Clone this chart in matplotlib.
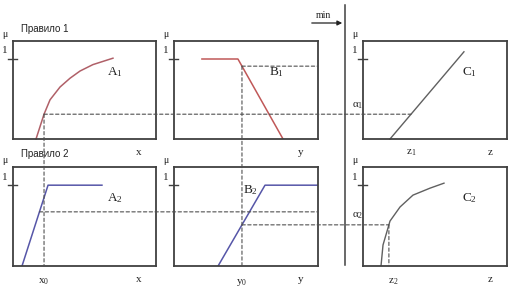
import numpy as np
import matplotlib
matplotlib.use("Agg")
import matplotlib.pyplot as plt
from matplotlib.patches import ConnectionPatch

plt.rcParams['mathtext.fontset'] = 'custom'
plt.rcParams['mathtext.rm'] = 'Liberation Serif'
plt.rcParams['mathtext.it'] = 'Liberation Serif:italic'

# ---- data (universes scaled 0..10, membership 0..1) ----
a1_x = [1.61, 2.17, 2.59, 3.29, 3.99, 4.69, 5.59, 6.99]
a1_mu = [0.0, 0.31, 0.49, 0.65, 0.76, 0.85, 0.93, 1.01]
b1_x = [1.94, 4.44, 7.57]
b1_mu = [1.0, 1.0, 0.0]
c1_x = [1.875, 7.01]
c1_mu = [0.0, 1.09]
a2_x = [0.63, 2.45, 6.22]
a2_mu = [0.0, 1.0, 1.0]
b2_x = [3.06, 6.32, 10.0]
b2_mu = [0.0, 1.0, 1.0]
c2_x = [1.25, 1.39, 1.875, 2.57, 3.47, 4.65, 5.625]
c2_mu = [0.0, 0.26, 0.556, 0.73, 0.877, 0.963, 1.025]
x0 = 2.17
y0 = 4.72
mu_a2_level = 0.67   # level for A2(x0)

W, H = 516, 290
fig = plt.figure(figsize=(W / 100, H / 100), dpi=100)

EDGE = '#404040'
DASH = '#505050'
SERIF = 'Liberation Serif'
SANS = 'Liberation Sans'


def make_ax(left, top, right, bottom):
    ax = fig.add_axes([left / W, 1 - bottom / H, (right - left) / W, (bottom - top) / H])
    ax.set_xlim(0, 10)
    ax.set_ylim(0, 1.225)
    ax.set_xticks([])
    ax.set_yticks([])
    for s in ax.spines.values():
        s.set_color(EDGE)
        s.set_linewidth(1.3)
    ax.patch.set_alpha(0)
    # tick for mu = 1
    ax.plot([-0.38, 0.3], [1, 1], color=EDGE, lw=1.0, clip_on=False)
    ax.text(-0.55, 1.1, '1', fontsize=8, family=SERIF, ha='center', va='center', color='#222')
    ax.text(-0.55, 1.31, 'μ', fontsize=7, family=SERIF, ha='center', va='center', color='#222')
    return ax


axA1 = make_ax(13, 41, 156, 139)
axB1 = make_ax(174, 41, 318, 139)
axC1 = make_ax(363, 41, 507, 139)
axA2 = make_ax(13, 167, 156, 266)
axB2 = make_ax(174, 167, 318, 266)
axC2 = make_ax(363, 167, 507, 266)

RED = '#b06068'
RED2 = '#c05858'
BLUE = '#5656a8'
GRAY = '#606060'

axA1.plot(a1_x, a1_mu, color=RED, lw=1.1, clip_on=False)
axB1.plot(b1_x, b1_mu, color=RED2, lw=1.1)
axC1.plot(c1_x, c1_mu, color=GRAY, lw=1.0, clip_on=False)
axA2.plot(a2_x, a2_mu, color=BLUE, lw=1.1)
axB2.plot(b2_x, b2_mu, color=BLUE, lw=1.1)
axC2.plot(c2_x, c2_mu, color=GRAY, lw=1.0)

# membership values
mu_a1 = np.interp(x0, a1_x, a1_mu)
mu_b1 = np.interp(y0, b1_x, b1_mu)
mu_b2 = np.interp(y0, b2_x, b2_mu)
alpha1 = min(mu_a1, mu_b1)
alpha2 = min(mu_a2_level, mu_b2)
z1 = np.interp(alpha1, c1_mu, c1_x)
z2 = np.interp(alpha2, c2_mu, c2_x)
xa2 = np.interp(mu_a2_level, a2_mu[:2], a2_x[:2])

dash_kw = dict(color=DASH, lw=0.8, linestyle=(0, (3, 2.2)))


def connect(p1, ax1, p2, ax2):
    cp = ConnectionPatch(p1, p2, coordsA='data', coordsB='data', axesA=ax1, axesB=ax2, **dash_kw)
    fig.add_artist(cp)


connect((x0, mu_a1), axA1, (x0, 0), axA2)           # x0 vertical
connect((y0, mu_b1), axB1, (y0, 0), axB2)           # y0 vertical
connect((x0, mu_a1), axA1, (z1, alpha1), axC1)      # alpha1
connect((y0, mu_b1), axB1, (10, mu_b1), axB1)       # B1 level
connect((xa2, mu_a2_level), axA2, (10, mu_a2_level), axB2)  # A2 level
connect((y0, mu_b2), axB2, (z2, alpha2), axC2)      # alpha2
connect((z1, alpha1), axC1, (z1, -0.09), axC1)      # z1
connect((z2, alpha2), axC2, (z2, 0), axC2)          # z2

# labels inside panels
lab_kw = dict(fontsize=9.5, family=SERIF, color='#222', ha='center', va='center')
axA1.text(7.1, 0.84, 'A$_1$', **lab_kw)
axB1.text(7.1, 0.84, 'B$_1$', **lab_kw)
axC1.text(7.4, 0.84, 'C$_1$', **lab_kw)
axA2.text(7.1, 0.84, 'A$_2$', **lab_kw)
axB2.text(5.3, 0.94, 'B$_2$', **lab_kw)
axC2.text(7.4, 0.84, 'C$_2$', **lab_kw)

al_kw = dict(fontsize=8, family=SERIF, color='#222', ha='center', va='center')
axC1.text(-0.4, alpha1 + 0.1, 'α$_1$', **al_kw)
axC2.text(-0.4, alpha2 + 0.11, 'α$_2$', **al_kw)

ax_kw = dict(fontsize=8, family=SERIF, color='#222', ha='center', va='center')
for ax, name in [(axA1, 'x'), (axB1, 'y'), (axC1, 'z')]:
    ax.text(8.8, -0.17, name, **ax_kw)
for ax, name in [(axA2, 'x'), (axB2, 'y'), (axC2, 'z')]:
    ax.text(8.8, -0.17, name, **ax_kw)
axC1.text(z1, -0.17, 'z$_1$', **ax_kw)
axA2.text(x0, -0.2, 'x$_0$', **ax_kw)
axB2.text(y0, -0.2, 'y$_0$', **ax_kw)
axC2.text(z2 + 0.3, -0.2, 'z$_2$', **ax_kw)

# overlay for rule titles, min arrow and separator
ov = fig.add_axes([0, 0, 1, 1])
ov.set_xlim(0, W)
ov.set_ylim(H, 0)
ov.axis('off')
ov.patch.set_alpha(0)
ov.text(21, 29, 'Правило 1', fontsize=7, family=SANS, color='#222', ha='left', va='center')
ov.text(21, 154, 'Правило 2', fontsize=7, family=SANS, color='#222', ha='left', va='center')
ov.plot([345, 345], [5, 265], color=EDGE, lw=1.1)
ov.annotate('', xy=(345, 23), xytext=(309, 23),
            arrowprops=dict(arrowstyle='-|>', color='#222', lw=0.9, mutation_scale=7))
ov.text(323, 16, 'min', fontsize=7, family=SERIF, color='#222', ha='center', va='center')

fig.savefig('out.png', dpi=100)
